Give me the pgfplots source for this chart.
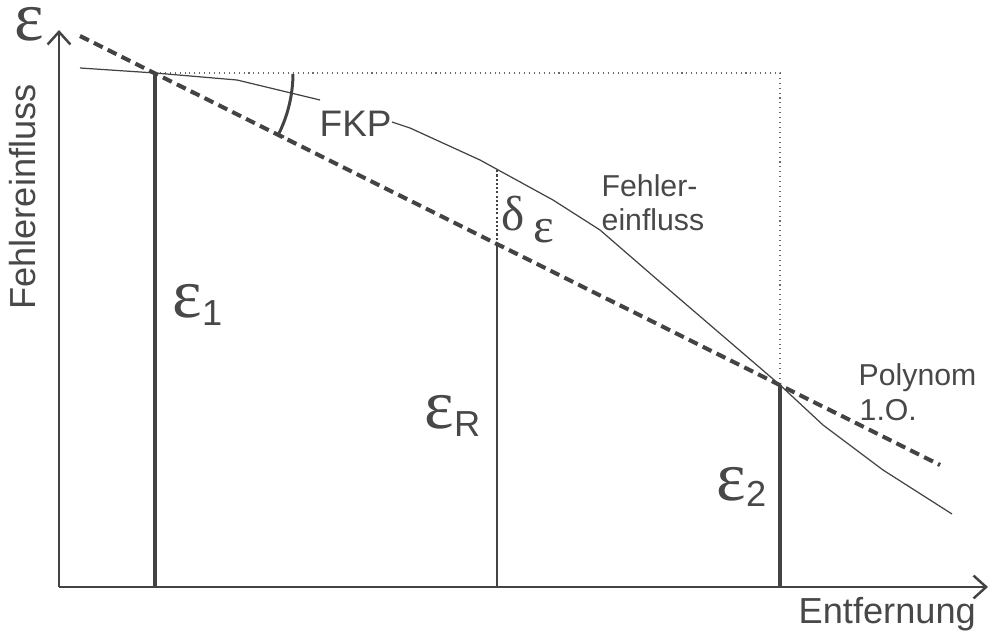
\documentclass[border=0pt]{standalone}
\usepackage{fontspec}
\setmainfont{Liberation Sans}
\newfontfamily\serif{Liberation Serif}
\usepackage{pgfplots}
\pgfplotsset{compat=1.18}
\usetikzlibrary{arrows.meta}
\definecolor{ink}{HTML}{434343}
\definecolor{txt}{HTML}{484848}

\newcommand\fs[1]{\fontsize{#1}{#1}\selectfont}

\begin{document}
\begin{tikzpicture}
\begin{axis}[
  scale only axis, width=9.89cm, height=6.31cm,
  xmin=-59, xmax=930, ymin=-44, ymax=587,
  hide axis, clip=false,
]
% coordinate axes
\addplot[ink, line width=0.85pt, -{Straight Barb[length=3.6pt,width=6.5pt,line width=0.7pt]}]
  coordinates {(0,0) (0,557)};
\addplot[ink, line width=0.85pt, -{Straight Barb[length=3.6pt,width=6.5pt,line width=0.7pt]}]
  coordinates {(0,0) (929,0)};

% auxiliary dotted frame through both support points
\addplot[ink!80, line width=0.3pt, dash pattern=on 0.3pt off 1.1pt]
  coordinates {(96,514) (721,514) (721,202)};

% error influence curve (FKP), interrupted by its label
\addplot[ink, line width=0.35pt]
  coordinates {(21,519) (96,514) (178,507) (261,487)};
\addplot[ink, line width=0.35pt]
  coordinates {(333,465) (351,459) (421,427) (494,387) (541,357) (601,305)
               (721,202) (764,162) (824,117) (893,73)};

% first order polynomial through both support points
\addplot[ink, line width=1.15pt, dash pattern=on 2.8pt off 1.6pt]
  coordinates {(21,551) (881,122)};

% vertical error values
\addplot[ink, line width=1.4pt] coordinates {(96,0) (96,514)};
\addplot[ink, line width=0.85pt] coordinates {(438,0) (438,343)};
\addplot[ink, line width=1.4pt] coordinates {(721,0) (721,202)};

% residual delta epsilon
\addplot[ink, line width=0.6pt, dash pattern=on 0.6pt off 0.6pt]
  coordinates {(438,343) (438,417)};

% angle between curve and polynomial
\draw[ink, line width=0.85pt] (axis cs:234,513) arc[start angle=-0.5, end angle=-26.6, radius=13.8mm]
  -- ++(0.55mm,-0.25mm);

% labels
\node[txt, inner sep=0pt, anchor=base west] at (axis cs:-45,546) {\fs{20}\serif\smash{ε}};
\node[txt, rotate=90, anchor=center] at (axis cs:-36,390) {\fs{10.3}Fehlereinfluss};
\node[txt, inner sep=0pt, anchor=base west] at (axis cs:113,270)
  {\fs{20}\serif ε\fs{10.3}\rmfamily\raisebox{-2.5pt}{1}};
\node[txt, inner sep=0pt, anchor=base west] at (axis cs:365,159)
  {\fs{20}\serif ε\fs{10.3}\rmfamily\raisebox{-2.5pt}{R}};
\node[txt, inner sep=0pt, anchor=base west] at (axis cs:657,87)
  {\fs{20}\serif ε\fs{10.3}\rmfamily\raisebox{-1.8pt}{2}};
\node[txt, inner sep=0pt, anchor=base west] at (axis cs:442,357)
  {\fs{14}\serif δ\,\raisebox{-3.6pt}{ε}};
\node[txt, inner sep=0pt, anchor=base west] at (axis cs:260,450) {\fs{10.5}FKP};
\node[txt, inner sep=0pt, anchor=base west] at (axis cs:542,390) {\fs{8.6}Fehler-};
\node[txt, inner sep=0pt, anchor=base west] at (axis cs:542,357) {\fs{8.6}einfluss};
\node[txt, inner sep=0pt, anchor=base west] at (axis cs:799,202) {\fs{8.6}Polynom};
\node[txt, inner sep=0pt, anchor=base west] at (axis cs:800,167) {\fs{8.6}1.O.};
\node[txt, inner sep=0pt, anchor=base west] at (axis cs:739,-36) {\fs{10.3}Entfernung};
\end{axis}
% the page is exactly the axis frame
\pgfresetboundingbox
\path (0,0) rectangle (9.89cm,6.31cm);
\end{tikzpicture}
\end{document}
